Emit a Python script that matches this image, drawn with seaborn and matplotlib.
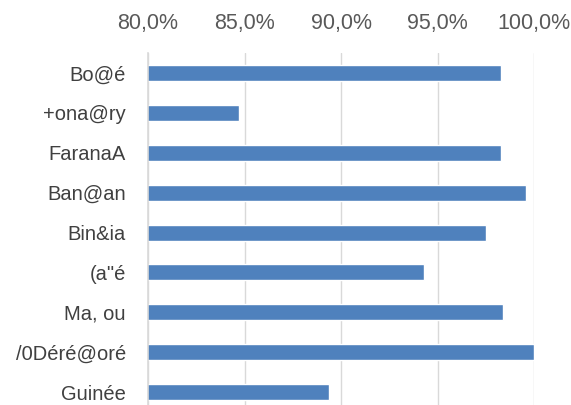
import seaborn as sns
import matplotlib.pyplot as plt
import pandas as pd
from matplotlib.ticker import FuncFormatter

sns.set_theme(style="white")
plt.rcParams['font.family'] = ['Liberation Sans', 'DejaVu Sans']

regions = ["Bo@é", "+ona@ry", "FaranaA", "Ban@an", "Bin&ia",
           "(a\"é", "Ma, ou", "/0Déré@oré", "Guinée"]
values = [98.3, 84.7, 98.3, 99.6, 97.5, 94.3, 98.4, 100.0, 89.4]

df = pd.DataFrame({'region': regions, 'value': values})

fig = plt.figure(figsize=(5.71, 4.05), dpi=100)
ax = fig.add_axes([0.2592, -0.0173, 0.676, 0.886])

sns.barplot(data=df, x='value', y='region', ax=ax,
            color='#4F81BD', saturation=1, width=0.4, orient='h')

ax.set_xlim(80, 100)
ax.set_xticks([80, 85, 90, 95, 100])
ax.xaxis.set_major_formatter(FuncFormatter(lambda v, p: f"{v:.1f}%".replace('.', ',')))
ax.xaxis.tick_top()
ax.grid(axis='x', color='#D9D9D9', linewidth=1)
ax.set_axisbelow(True)

for s in ['top', 'right', 'bottom']:
    ax.spines[s].set_visible(False)
ax.spines['left'].set_color('#D9D9D9')
ax.spines['left'].set_linewidth(1.2)

ax.tick_params(axis='x', length=0, pad=14, labelsize=15.5, labelcolor='#595959')
ax.tick_params(axis='y', length=0, pad=16, labelsize=14.5, labelcolor='#404040')
ax.set_xlabel('')
ax.set_ylabel('')

fig.savefig('out.png', dpi=100)
